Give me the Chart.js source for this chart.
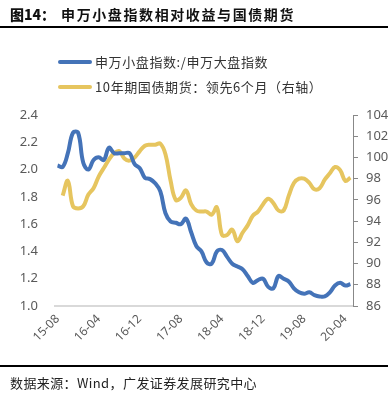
<!DOCTYPE html>
<html>
<head>
<meta charset="utf-8">
<script src="https://cdn.jsdelivr.net/npm/chart.js@4"></script>
<style>
  body { margin: 0; background: #fff; font-family: "Noto Sans CJK SC", sans-serif; }
  #wrap { position: relative; width: 388px; height: 394px; overflow: hidden; }
  #chart { position: absolute; left: 0; top: 0; }
  .title { position: absolute; left: 10px; top: 4px; font-size: 14px; font-weight: bold; color: #111; letter-spacing: 1.6px; white-space: nowrap; }
  .title b { letter-spacing: 0; margin-right: 6px; }
  .rule { position: absolute; left: 0; width: 388px; height: 2px; background: #000; }
  .leg { position: absolute; left: 58px; font-size: 13px; color: #333; white-space: nowrap; letter-spacing: 0.6px; }
  .leg span { display: inline-block; width: 34px; height: 4px; border-radius: 2px; vertical-align: middle; margin-right: 3px; position: relative; top: -1px; }
  .src { position: absolute; left: 10px; top: 373px; font-size: 13px; color: #222; white-space: nowrap; letter-spacing: 0.4px; }
</style>
</head>
<body>
<div id="wrap">
  <canvas id="chart" width="388" height="394"></canvas>
  <div class="title"><b>图14：</b>申万小盘指数相对收益与国债期货</div>
  <div class="rule" style="top:26px"></div>
  <div class="leg" style="top:52px"><span style="background:#4473B8"></span>申万小盘指数:/申万大盘指数</div>
  <div class="leg" style="top:77px"><span style="background:#E6C55F"></span>10年期国债期货：领先6个月（右轴）</div>
  <div class="rule" style="top:365px"></div>
  <div class="src">数据来源：Wind，广发证券发展研究中心</div>
</div>
<script>
document.addEventListener('DOMContentLoaded', () => {
    // months, 2015-08 .. 2020-05
    const months = [
        '15-08','15-09','15-10','15-11','15-12',
        '16-01','16-02','16-03','16-04','16-05','16-06','16-07','16-08','16-09','16-10','16-11','16-12',
        '17-01','17-02','17-03','17-04','17-05','17-06','17-07','17-08','17-09','17-10','17-11','17-12',
        '18-01','18-02','18-03','18-04','18-05','18-06','18-07','18-08','18-09','18-10','18-11','18-12',
        '19-01','19-02','19-03','19-04','19-05','19-06','19-07','19-08','19-09','19-10','19-11','19-12',
        '20-01','20-02','20-03','20-04','20-05'
    ];

    // small cap / large cap ratio (left axis)
    const smallLargeRatio = [
        2.03, 2.02, 2.12, 2.27, 2.27, 2.05, 2.00, 2.07, 2.09, 2.07,
        2.16, 2.12, 2.12, 2.12, 2.12, 2.04, 2.01, 1.94, 1.93, 1.90,
        1.84, 1.68, 1.62, 1.61, 1.60, 1.64, 1.54, 1.44, 1.40, 1.32,
        1.31, 1.40, 1.41, 1.36, 1.31, 1.29, 1.27, 1.22, 1.17, 1.19,
        1.20, 1.14, 1.13, 1.22, 1.20, 1.18, 1.13, 1.10, 1.09, 1.10,
        1.08, 1.07, 1.07, 1.10, 1.15, 1.17, 1.15, 1.16
    ];

    // 10y treasury futures, lead 6 months (right axis)
    const bondFutures = [
        null, 96.4, 97.8, 95.4, 95.2, 95.4, 96.5, 97.1, 98.2, 99.0,
        99.8, 100.4, 100.6, 99.9, 99.7, 100.0, 100.6, 101.1, 101.2, 101.2,
        101.3, 100.3, 97.8, 96.0, 96.2, 96.9, 95.6, 95.0, 94.9, 94.9,
        94.6, 95.3, 92.7, 92.7, 93.2, 92.1, 92.9, 93.6, 94.5, 94.9,
        95.6, 96.1, 95.7, 95.0, 95.0, 96.4, 97.6, 98.0, 98.0, 97.6,
        97.0, 97.1, 97.9, 98.5, 99.1, 98.8, 97.8, 98.1
    ];

    const tickFont = { family: '"Noto Sans", sans-serif', size: 13 };

    const ctx = document.getElementById('chart').getContext('2d');
    new Chart(ctx, {
        type: 'line',
        data: {
            labels: months,
            datasets: [{
                label: '申万小盘指数:/申万大盘指数',
                data: smallLargeRatio,
                borderColor: '#4473B8',
                borderWidth: 4,
                pointRadius: 0,
                tension: 0.4,
                yAxisID: 'y'
            }, {
                label: '10年期国债期货：领先6个月（右轴）',
                data: bondFutures,
                borderColor: '#E6C55F',
                borderWidth: 4,
                pointRadius: 0,
                tension: 0.4,
                yAxisID: 'y1'
            }]
        },
        options: {
            responsive: false,
            devicePixelRatio: 1,
            animation: false,
            layout: { padding: { top: 115, left: 0, right: 0, bottom: 0 } },
            plugins: { legend: { display: false }, tooltip: { enabled: false } },
            scales: {
                x: {
                    offset: true,
                    grid: { display: false, drawTicks: false },
                    border: { display: true, color: '#d9d9d9', width: 2 },
                    ticks: {
                        autoSkip: false,
                        maxRotation: 45,
                        minRotation: 45,
                        padding: 6,
                        color: '#595959',
                        font: { family: '"Noto Sans", sans-serif', size: 12 },
                        callback: (v, i) => (i % 8 === 0 ? months[i] : '')
                    },
                    afterFit: scale => { scale.height = 88; }
                },
                y: {
                    position: 'left',
                    min: 1.0,
                    max: 2.4,
                    grid: { display: false, drawTicks: false },
                    border: { display: false },
                    ticks: {
                        stepSize: 0.2,
                        padding: 17,
                        color: '#595959',
                        font: tickFont,
                        callback: v => v.toFixed(1)
                    },
                    afterFit: scale => { scale.width = 55; }
                },
                y1: {
                    position: 'right',
                    min: 86,
                    max: 104,
                    grid: { drawOnChartArea: false, drawTicks: true, tickLength: 5, color: '#888' },
                    border: { display: true, color: '#888', width: 1 },
                    ticks: {
                        stepSize: 2,
                        padding: 8,
                        color: '#595959',
                        font: tickFont
                    },
                    afterFit: scale => { scale.width = 35; }
                }
            }
        }
    });
});
</script>
</body>
</html>
